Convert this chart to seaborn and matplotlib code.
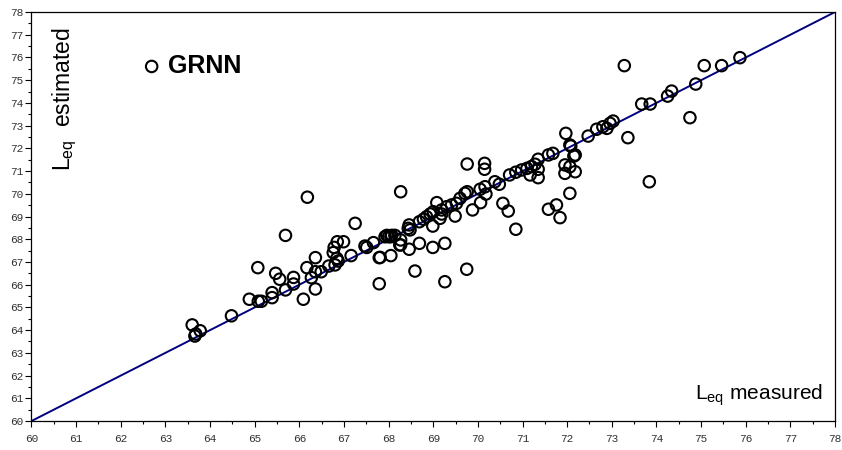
import pandas as pd
import seaborn as sns
import matplotlib.pyplot as plt
import matplotlib.ticker as ticker

# measured vs estimated Leq
measured = [
    63.60, 63.68, 63.78, 63.66, 64.48, 64.88, 65.08, 65.15, 65.07, 65.39,
    65.39, 65.47, 65.56, 65.69, 65.69, 65.87, 65.87, 66.09, 66.18, 66.17,
    66.27, 66.36, 66.36, 66.36, 66.49, 66.66, 66.76, 66.78, 66.80, 66.84,
    66.85, 66.87, 66.99, 67.16, 67.25, 67.47, 67.51, 67.66, 67.79, 67.79,
    67.81, 67.92, 67.96, 68.00, 68.05, 68.05, 68.07, 68.14, 68.25, 68.27,
    68.27, 68.27, 68.44, 68.46, 68.46, 68.48, 68.59, 68.69, 68.69, 68.78,
    68.85, 68.93, 68.99, 68.99, 69.00, 69.08, 69.15, 69.19, 69.19, 69.26,
    69.26, 69.30, 69.41, 69.49, 69.52, 69.60, 69.71, 69.75, 69.76, 69.76,
    69.88, 70.05, 70.06, 70.15, 70.15, 70.16, 70.18, 70.38, 70.48, 70.56,
    70.68, 70.71, 70.85, 70.85, 70.98, 71.10, 71.17, 71.20, 71.28, 71.35,
    71.35, 71.35, 71.58, 71.58, 71.68, 71.76, 71.84, 71.95, 71.95, 71.97,
    72.06, 72.06, 72.06, 72.08, 72.15, 72.18, 72.18, 72.47, 72.66, 72.80,
    72.89, 72.96, 73.03, 73.28, 73.36, 73.67, 73.84, 73.86, 74.25, 74.34,
    74.75, 74.88, 75.07, 75.46, 75.87,
]
estimated = [
    64.23, 63.83, 63.97, 63.74, 64.63, 65.36, 65.27, 65.27, 66.75, 65.65,
    65.43, 66.50, 66.24, 65.77, 68.17, 66.32, 66.03, 65.36, 69.85, 66.75,
    66.31, 67.19, 66.57, 65.81, 66.57, 66.82, 67.41, 67.64, 66.87, 67.16,
    67.89, 67.04, 67.89, 67.28, 68.70, 67.70, 67.64, 67.85, 67.19, 66.04,
    67.20, 68.11, 68.17, 68.11, 68.11, 67.28, 68.17, 68.17, 67.75, 70.09,
    67.97, 67.75, 68.48, 68.63, 67.56, 68.41, 66.60, 68.77, 67.82, 68.88,
    68.99, 69.11, 68.58, 67.64, 69.21, 69.61, 68.92, 69.29, 69.11, 67.82,
    66.13, 69.43, 69.51, 69.02, 69.58, 69.80, 70.02, 66.68, 71.31, 70.09,
    69.29, 70.20, 69.61, 71.34, 71.08, 70.31, 69.99, 70.53, 70.42, 69.58,
    69.24, 70.83, 70.95, 68.44, 71.05, 71.12, 70.83, 71.20, 71.30, 71.52,
    71.08, 70.71, 71.71, 69.32, 71.78, 69.51, 68.95, 71.27, 70.90, 72.66,
    72.15, 71.19, 70.02, 72.10, 71.66, 71.71, 70.97, 72.54, 72.84, 72.95,
    72.88, 73.10, 73.20, 75.64, 72.47, 73.95, 70.53, 73.95, 74.30, 74.52,
    73.35, 74.83, 75.64, 75.64, 75.99,
]
diag = [60, 78]
ticks = list(range(60, 79))

df = pd.DataFrame({"measured": measured, "estimated": estimated})

sns.set_style("white")
plt.rcParams["font.family"] = ["Liberation Sans", "DejaVu Sans"]
plt.rcParams["text.color"] = "black"

fig = plt.figure(figsize=(8.42, 4.5), dpi=100)
ax = fig.add_axes([0.0374, 0.0644, 0.9543, 0.9089])

sns.lineplot(x=diag, y=diag, ax=ax, color="#000080", linewidth=1.4, zorder=1)
sns.scatterplot(data=df, x="measured", y="estimated", ax=ax, marker="o",
                s=68, facecolor="none", edgecolor="black", linewidth=1.5,
                label="GRNN", zorder=2)

ax.set_xlim(60, 78)
ax.set_ylim(60, 78)
ax.set_xticks(ticks)
ax.set_yticks(ticks)
ax.xaxis.set_minor_locator(ticker.MultipleLocator(0.5))
ax.yaxis.set_minor_locator(ticker.MultipleLocator(0.5))
ax.tick_params(which="both", bottom=True, left=True, top=False, right=False)
ax.tick_params(which="major", direction="out", length=4, width=0.8,
               color="black", labelsize=8, labelcolor="#333333")
ax.tick_params(axis="x", which="major", pad=5)
ax.tick_params(axis="y", which="major", pad=2)
ax.tick_params(which="minor", direction="out", length=2, width=0.8, color="black")
for lab in ax.get_xticklabels() + ax.get_yticklabels():
    lab.set_family("Liberation Mono")
for sp in ax.spines.values():
    sp.set_color("black")
    sp.set_linewidth(0.9)

ax.set_xlabel("")
ax.set_ylabel("")
ax.text(0.042, 0.963, r"$\mathregular{L_{eq}}$  estimated", transform=ax.transAxes,
        rotation=90, ha="center", va="top", fontsize=16.5)
ax.text(0.985, 0.032, r"$\mathregular{L_{eq}}$ measured", transform=ax.transAxes,
        ha="right", va="bottom", fontsize=15)

leg = ax.legend(loc="center left", bbox_to_anchor=(0.134, 0.868), frameon=False,
                borderpad=0, borderaxespad=0, handlelength=1.0, handletextpad=0.15,
                prop={"weight": "bold", "size": 18})
for t in leg.get_texts():
    t.set_color("black")

fig.savefig("out.png", dpi=100)
plt.close()
